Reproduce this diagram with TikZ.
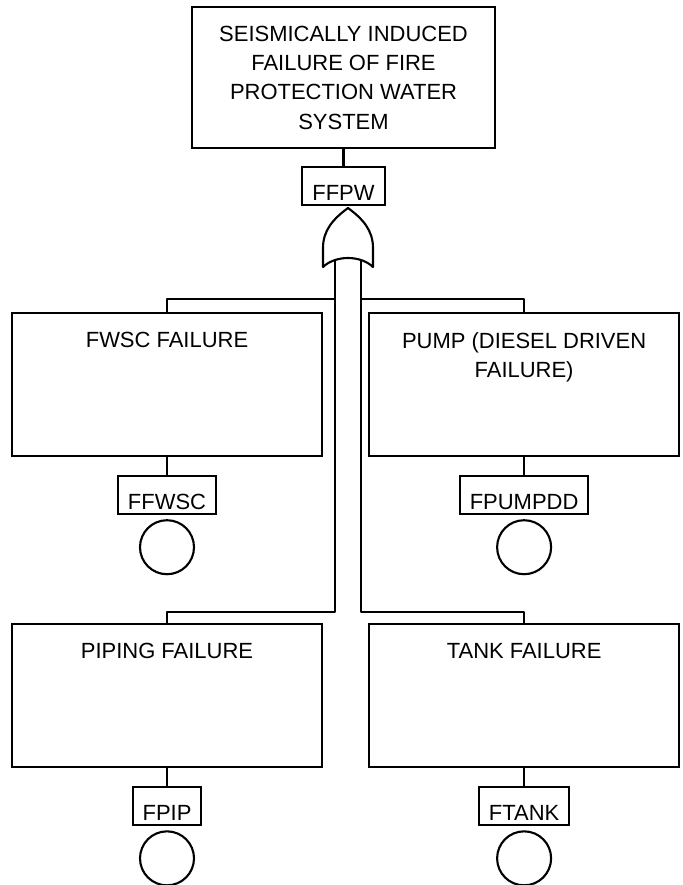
\documentclass[tikz,border=0pt]{standalone}
\usepackage{fontspec}
\setmainfont{Liberation Sans}
\usetikzlibrary{positioning,calc}

\newcommand{\evfont}{\fontsize{12.5}{16.7}\selectfont}

\begin{document}
\begin{tikzpicture}[
  node distance=0.36cm and 0.9cm,
  event/.style={draw, line width=1.2pt, minimum width=6.2cm, minimum height=2.86cm},
  evtext/.style={align=center, inner sep=0pt, font=\evfont},
  tag/.style={draw, line width=1.2pt, inner xsep=0.2cm, inner ysep=0pt, text height=0.66cm, text depth=0.1cm, font=\evfont},
  basic/.style={draw, circle, line width=1.2pt, minimum size=1.08cm, inner sep=0pt},
  wire/.style={line width=1.2pt, line join=round}
]
  \useasboundingbox (0,0) rectangle (13.66,-17.7);

  % Top event
  \node[event, minimum width=6.06cm, minimum height=2.82cm, align=center, font=\evfont] (top) at (6.87,-1.55)
    {SEISMICALLY INDUCED\\FAILURE OF FIRE\\PROTECTION WATER\\SYSTEM};
  \node[tag, below=0.34cm of top] (ffpw) {FFPW};
  \draw[wire] (ffpw) -- (top);

  % OR gate
  \coordinate (gt) at (6.96,-4.16);
  \begin{scope}[shift={(gt)}]
    \draw[wire] (0,0) .. controls (-0.3,-0.22) and (-0.5,-0.45) .. (-0.5,-0.8)
      -- (-0.5,-1.18) .. controls (-0.25,-0.94) and (0.25,-0.94) .. (0.5,-1.18)
      -- (0.5,-0.8) .. controls (0.5,-0.45) and (0.3,-0.22) .. cycle;
    \coordinate (inL) at (-0.26,-1.04);
    \coordinate (inR) at (0.26,-1.04);
  \end{scope}

  % Basic events
  \node[event] (fwsc) at (3.34,-7.69) {};
  \node[evtext, below=0.4cm of fwsc.north] (fwsc-t) {FWSC FAILURE};
  \node[event, right=of fwsc] (pump) {};
  \node[evtext, below=0.4cm of pump.north] (pump-t) {PUMP (DIESEL DRIVEN\\FAILURE)};
  \node[event, below=3.32cm of fwsc] (pip) {};
  \node[evtext, below=0.4cm of pip.north] (pip-t) {PIPING FAILURE};
  \node[event, right=of pip] (tank) {};
  \node[evtext, below=0.4cm of tank.north] (tank-t) {TANK FAILURE};

  \node[tag, below=of fwsc] (ffwsc) {FFWSC};
  \node[basic, below=0.08cm of ffwsc] (c1) {};
  \node[tag, below=of pump] (fpumpdd) {FPUMPDD};
  \node[basic, below=0.08cm of fpumpdd] (c2) {};
  \node[tag, below=of pip] (fpip) {FPIP};
  \node[basic, below=0.08cm of fpip] (c3) {};
  \node[tag, below=of tank] (ftank) {FTANK};
  \node[basic, below=0.08cm of ftank] (c4) {};

  \draw[wire] (fwsc) -- (ffwsc);
  \draw[wire] (pump) -- (fpumpdd);
  \draw[wire] (pip) -- (fpip);
  \draw[wire] (tank) -- (ftank);

  % Gate inputs
  \draw[wire] (inL) |- ([yshift=0.22cm]pip.north) -- (pip.north);
  \draw[wire] (inR) |- ([yshift=0.22cm]tank.north) -- (tank.north);
  \draw[wire] (fwsc.north) -- ++(0,0.26) -| (inL);
  \draw[wire] (pump.north) -- ++(0,0.26) -| (inR);
\end{tikzpicture}
\end{document}
